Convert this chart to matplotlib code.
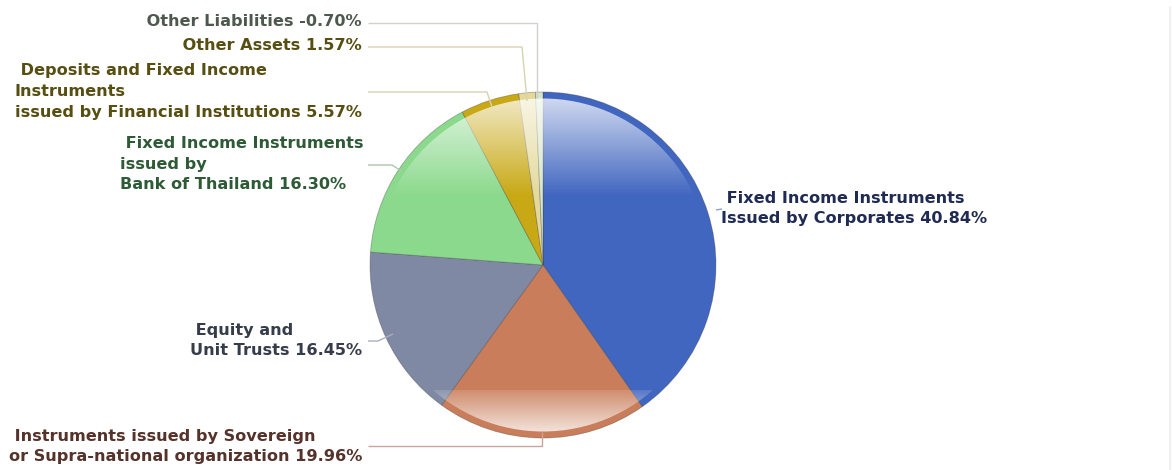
import numpy as np
import matplotlib
matplotlib.use("Agg")
import matplotlib.pyplot as plt
from matplotlib.patches import Circle

# ---- data ----
categories = [
    "Fixed Income Instruments\nIssued by Corporates",
    "Instruments issued by Sovereign\nor Supra-national organization",
    "Equity and\nUnit Trusts",
    "Fixed Income Instruments\nissued by\nBank of Thailand",
    "Deposits and Fixed Income\nInstruments\nissued by Financial Institutions",
    "Other Assets",
    "Other Liabilities",
]
values = [40.84, 19.96, 16.45, 16.30, 5.57, 1.57, -0.70]
colors = ["#4166c0", "#c97d5a", "#7f89a3", "#8bd98c", "#c8a814", "#e4d99a", "#d6e6c8"]
text_colors = ["#1f2b52", "#55322a", "#363c4a", "#2e5a36", "#574e12", "#574e12", "#4e584e"]
line_colors = ["#8fa3d8", "#c9a699", "#a9afbf", "#a9c9aa", "#d7d2b0", "#d7d2b0", "#cfd3c9"]

W, H = 1172, 470
fig = plt.figure(figsize=(W / 100, H / 100), dpi=100)
ax = fig.add_axes([0, 0, 1, 1])
ax.set_xlim(0, W)
ax.set_ylim(0, H)
ax.axis("off")

cx, cy_px, r = 543, 265, 173
cy = H - cy_px

sizes = [abs(v) for v in values]
wedges, _ = ax.pie(sizes, colors=colors, startangle=90, counterclock=False,
                   center=(cx, cy), radius=r, frame=False,
                   wedgeprops=dict(edgecolor=(0.2, 0.2, 0.2, 0.35), linewidth=0.6))
ax.set_xlim(0, W)
ax.set_ylim(0, H)
ax.set_aspect("equal")

# ---- gloss overlays ----
inner = r - 6.5
ext = [cx - r, cx + r, cy - r, cy + r]
ny = 2 * r
ys_px = np.linspace(cy_px - r, cy_px + r, ny)  # top -> bottom (pixel rows)
alpha = np.zeros(ny)
top = (ys_px < 196)
alpha[top] = np.clip(0.75 * (196 - ys_px[top]) / 98, 0, 0.75)
bot = ys_px > 390
alpha[bot] = np.clip(0.12 + 0.66 * (ys_px[bot] - 390) / 42, 0, 0.78)
img = np.ones((ny, 2, 4))
img[:, :, 3] = alpha[:, None]
im = ax.imshow(img, extent=ext, origin="upper", interpolation="bilinear",
               aspect="auto", zorder=3)
clip = Circle((cx, cy), inner, transform=ax.transData)
im.set_clip_path(clip)
ax.set_xlim(0, W)
ax.set_ylim(0, H)

# ---- labels ----
fs = 11.6
font = dict(fontfamily="DejaVu Sans", fontweight="bold", fontsize=fs)

label_specs = [
    # (text x, text y center px, ha, connector pts (px))
    (721, 208.5, "left", [(716, 210), (722, 209)]),
    (362, 446.5, "right", [(542, 432), (542, 446), (368, 446)]),
    (362, 340.5, "right", [(393, 334), (378, 341), (368, 341)]),
    (363, 164, "right", [(403, 172), (392, 165), (368, 165)]),
    (362, 91.5, "right", [(492, 107), (487, 92), (368, 92)]),
    (362, 45.5, "right", [(527, 101), (522, 47), (368, 47)]),
    (362, 21.5, "right", [(537, 98), (537, 23), (368, 23)]),
]

for cat, v, tc, lc, (tx, ty, ha, pts) in zip(categories, values, text_colors,
                                              line_colors, label_specs):
    lines = cat.split("\n")
    lines[0] = " " + lines[0]
    txt = "\n".join(lines) + f" {v:.2f}%"
    ax.text(tx, H - ty, txt, ha=ha, va="center", multialignment="left",
            color=tc, linespacing=1.47, zorder=5, **font)
    xs = [p[0] for p in pts]
    yv = [H - p[1] for p in pts]
    ax.plot(xs, yv, color=lc, lw=1.0, zorder=4, solid_capstyle="butt")

# right border line
ax.plot([1170, 1170], [0, H - 7], color="#ececec", lw=1.2, zorder=1)

fig.savefig("out.png", dpi=100)
